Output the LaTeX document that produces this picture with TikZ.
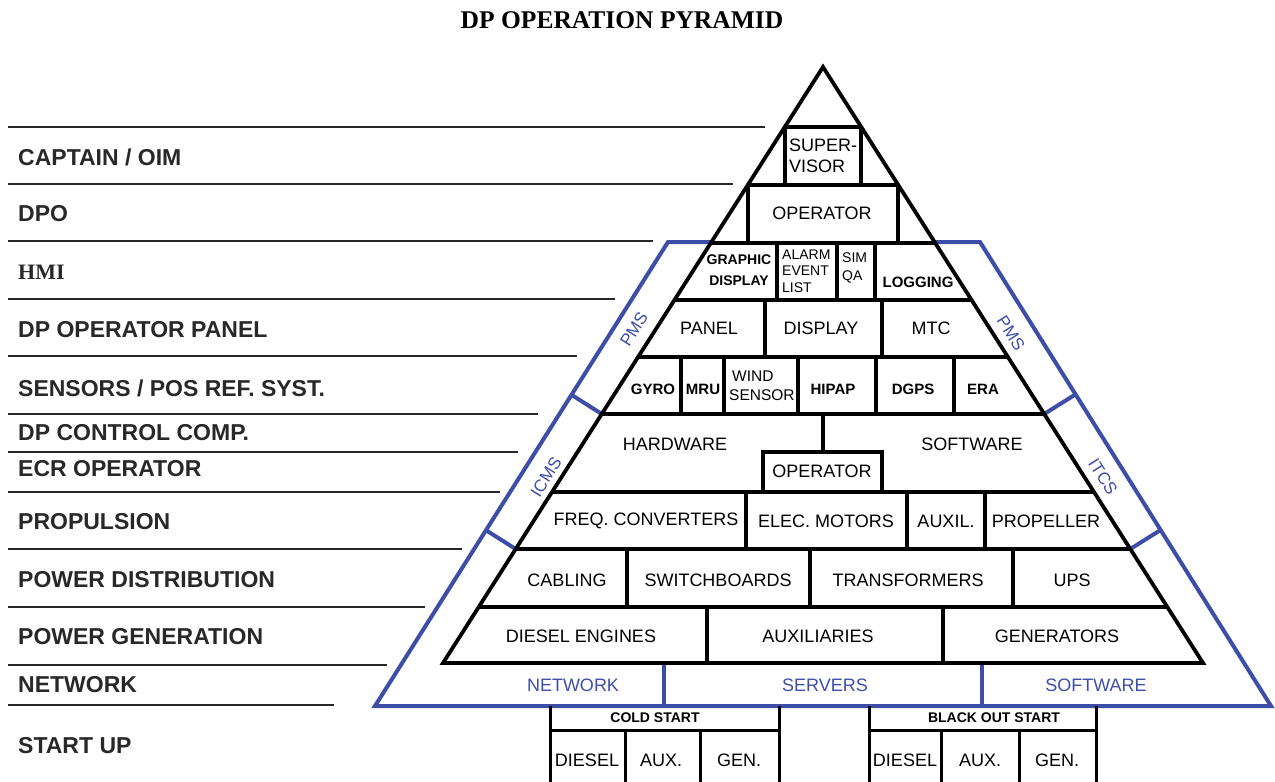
\documentclass[tikz,border=0pt]{standalone}
\usepackage{fontspec}
\setmainfont{Liberation Sans}
\newfontfamily\serifbf{Liberation Serif}
\usetikzlibrary{calc}
\definecolor{pblue}{RGB}{62,78,168}
\definecolor{lgray}{RGB}{40,40,40}
\begin{document}
\begin{tikzpicture}[x=1pt,y=-1pt,
  blk/.style={line width=3.8pt,black,line join=miter},
  thinblk/.style={line width=3pt,black},
  blu/.style={line width=4pt,pblue,line join=miter},
  lbl/.style={anchor=west,inner sep=0pt,text=lgray,font=\fontsize{23}{25}\selectfont\bfseries},
  lin/.style={line width=2pt,lgray},
  tx/.style={inner sep=0pt,align=center,font=\fontsize{18}{20}\selectfont},
  tb/.style={inner sep=0pt,align=center,font=\fontsize{15}{16}\selectfont\bfseries},
  ts/.style={inner sep=0pt,align=left,anchor=west},
  bt/.style={tx,text=pblue},
  st/.style={inner sep=0pt,font=\fontsize{17}{18}\selectfont,text=pblue},
  hd/.style={inner sep=0pt,font=\fontsize{14}{15}\selectfont\bfseries},
]
\useasboundingbox (0,0) rectangle (1275,782);

% title
\node[inner sep=0pt,font=\serifbf\bfseries\fontsize{25.5}{27}\selectfont] (title) at (622,20) {DP OPERATION PYRAMID};

% left level lines
\foreach \yy/\xe in {127/765,184/733,241/653,299/615,356/577,414/538,452/518,492/500,549/462,607/425,665/387,705/334}
  \draw[lin] (8,\yy) -- (\xe,\yy);

% left labels
\node[lbl] (lcap) at (18,157) {CAPTAIN / OIM};
\node[lbl] (ldpo) at (18,214) {DPO};
\node[lbl,font=\serifbf\bfseries\fontsize{22}{24}\selectfont] (lhmi) at (18,272) {HMI};
\node[lbl] (lpanel) at (18,330) {DP OPERATOR PANEL};
\node[lbl] (lsens) at (18,388) {SENSORS / POS REF. SYST.};
\node[lbl] (lcomp) at (18,433) {DP CONTROL COMP.};
\node[lbl] (lecr) at (18,469) {ECR OPERATOR};
\node[lbl] (lprop) at (18,522) {PROPULSION};
\node[lbl] (ldist) at (18,580) {POWER DISTRIBUTION};
\node[lbl] (lgen) at (18,637) {POWER GENERATION};
\node[lbl] (lnet) at (18,685) {NETWORK};
\node[lbl] (lstart) at (18,746) {START UP};

% blue outer frame
\coordinate (bL1) at (668,242);
\coordinate (bL2) at (375,706);
\coordinate (bR1) at (980,242);
\coordinate (bR2) at (1271,706);
\draw[blu] (712,242) -- (bL1) -- (bL2) -- (bR2) -- (bR1) -- (934,242);
\draw[blu] (664,663) -- (664,706);
\draw[blu] (982,663) -- (982,706);
\coordinate (kL1) at (601.8,414);
\coordinate (kL2) at (515.7,549);
\coordinate (kR1) at (1044.2,414);
\coordinate (kR2) at (1130.3,549);
\draw[blu] (kL1) -- ($(bL1)!(kL1)!(bL2)$);
\draw[blu] (kL2) -- ($(bL1)!(kL2)!(bL2)$);
\draw[blu] (kR1) -- ($(bR1)!(kR1)!(bR2)$);
\draw[blu] (kR2) -- ($(bR1)!(kR2)!(bR2)$);

% black pyramid
\coordinate (apex) at (823,67);
\coordinate (baseL) at (443,663);
\coordinate (baseR) at (1203,663);
\draw[blk] (apex) -- (baseL) -- (baseR) -- cycle;
\foreach \xa/\xb/\yy in {784.7/861.3/127,747.8/898.2/185,710.8/935.2/243,674.4/971.6/300,638.1/1007.9/357,601.8/1044.2/414,552/1094/492,515.7/1130.3/549,478.7/1167.3/607}
  \draw[blk] (\xa,\yy) -- (\xb,\yy);
\foreach \xx/\ya/\yb in {784.7/127/185,861.3/127/185,747.8/185/243,898.2/185/243,
  777/243/300,837/243/300,875/243/300,
  765/300/357,882/300/357,
  681/357/414,724/357/414,798/357/414,876/357/414,954/357/414,
  823/414/452,
  746/492/549,907/492/549,985/492/549,
  627/549/607,810/549/607,1013/549/607,
  707/607/663,943/607/663}
  \draw[blk] (\xx,\ya) -- (\xx,\yb);
\draw[blk] (763,492) -- (763,452) -- (882,452) -- (882,492);

% start-up boxes
\draw[thinblk] (550,706) -- (550,782);
\draw[thinblk] (779,706) -- (779,782);
\draw[thinblk] (550,730) -- (779,730);
\draw[thinblk] (625,730) -- (625,782);
\draw[thinblk] (700,730) -- (700,782);
\draw[thinblk] (869,706) -- (869,782);
\draw[thinblk] (1096,706) -- (1096,782);
\draw[thinblk] (869,730) -- (1096,730);
\draw[thinblk] (941,730) -- (941,782);
\draw[thinblk] (1019,730) -- (1019,782);

% pyramid texts
\node[ts,font=\fontsize{18}{21}\selectfont] (sup) at (789,156) {SUPER-\\VISOR};
\node[tx] (op1) at (822,213) {OPERATOR};
\node[tb,font=\fontsize{14}{21}\selectfont\bfseries] (graph) at (739,270) {GRAPHIC\\DISPLAY};
\node[ts,font=\fontsize{14}{16.5}\selectfont] (alarm) at (782,271) {ALARM\\EVENT\\LIST};
\node[ts,font=\fontsize{14}{18}\selectfont] (sim) at (842,268) {SIM\\QA};
\node[tb] (logg) at (918,282) {LOGGING};
\node[tx] (panel) at (709,328) {PANEL};
\node[tx] (disp) at (821,328) {DISPLAY};
\node[tx] (mtc) at (931,328) {MTC};
\node[tb] (gyro) at (653,389) {GYRO};
\node[tb] (mru) at (703,389) {MRU};
\node[ts,font=\fontsize{15.5}{19}\selectfont] (wind) at (729,386) {\hspace*{3pt}WIND\\SENSOR};
\node[tb] (hipap) at (833,389) {HIPAP};
\node[tb] (dgps) at (913,389) {DGPS};
\node[tb] (era) at (983,389) {ERA};
\node[tx] (hw) at (675,444) {HARDWARE};
\node[tx] (sw) at (972,444) {SOFTWARE};
\node[tx] (op2) at (822,471) {OPERATOR};
\node[tx] (freq) at (646,521) {FREQ. CONVERTERS};
\node[tx] (elec) at (826,521) {ELEC. MOTORS};
\node[tx] (auxil) at (946,521) {AUXIL.};
\node[tx] (prop) at (1046,521) {PROPELLER};
\node[tx] (cab) at (567,580) {CABLING};
\node[tx] (swb) at (718,580) {SWITCHBOARDS};
\node[tx] (trf) at (908,580) {TRANSFORMERS};
\node[tx] (ups) at (1072,580) {UPS};
\node[tx] (dsl) at (581,636) {DIESEL ENGINES};
\node[tx] (auxs) at (818,636) {AUXILIARIES};
\node[tx] (gens) at (1057,636) {GENERATORS};

% blue band texts
\node[bt] (bnet) at (573,685) {NETWORK};
\node[bt] (bsrv) at (825,685) {SERVERS};
\node[bt] (bsw) at (1096,685) {SOFTWARE};
\node[st,rotate=57.5] (pmsl) at (634,329) {PMS};
\node[st,rotate=-57.5] (pmsr) at (1011,333) {PMS};
\node[st,rotate=57.5] (icms) at (546,477) {ICMS};
\node[st,rotate=-57.5] (itcs) at (1103,477) {ITCS};

% start-up texts
\node[hd] (cold) at (655,718) {COLD START};
\node[tx] (cd) at (587,760) {DIESEL};
\node[tx] (ca) at (661,760) {AUX.};
\node[tx] (cg) at (739,760) {GEN.};
\node[hd] (black) at (994,718) {BLACK OUT START};
\node[tx] (bd) at (905,760) {DIESEL};
\node[tx] (ba) at (980,760) {AUX.};
\node[tx] (bg) at (1057,760) {GEN.};
\end{tikzpicture}
\end{document}
